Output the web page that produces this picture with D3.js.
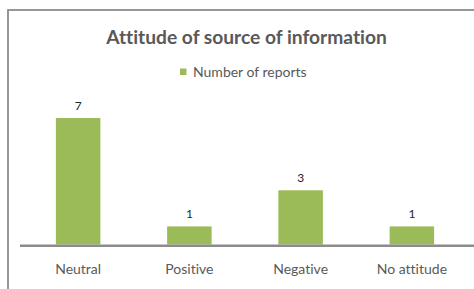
<!DOCTYPE html>
<html><head><meta charset="utf-8">
<script src="https://cdn.jsdelivr.net/npm/d3@7"></script>
<style>html,body{margin:0;padding:0;background:#fff;overflow:hidden} text{font-variant-ligatures:none;font-feature-settings:"liga" 0}</style>
</head><body>
<svg id="c" width="474" height="289"></svg>
<script>
const categories = ["Neutral", "Positive", "Negative", "No attitude"];
const values = [7, 1, 3, 1];
const seriesName = "Number of reports";
const title = "Attitude of source of information";

const svg = d3.select("#c");
const font = "Lato, 'Open Sans', sans-serif";
const grey = "#595959";

// frame
svg.append("rect").attr("x", 8).attr("y", 10).attr("width", 500).attr("height", 300)
  .attr("fill", "#fff").attr("stroke", "#8c8c8c").attr("stroke-width", 1.8);

const baseY = 244.5;
const x = d3.scaleBand().domain(categories).range([22.5, 467.5]).paddingInner(0.6).paddingOuter(0.3);
const y = d3.scaleLinear().domain([0, 7]).range([baseY, 118]);

svg.append("text").attr("x", 246.5).attr("y", 43.5).attr("text-anchor", "middle")
  .attr("font-family", font).attr("font-weight", "bold").attr("font-size", 19.2)
  .attr("fill", grey).text(title);

svg.append("rect").attr("x", 180).attr("y", 68.5).attr("width", 6.5).attr("height", 6.5).attr("fill", "#9BBB59");
svg.append("text").attr("x", 193).attr("y", 77).attr("font-family", font).attr("font-size", 14)
  .attr("fill", grey).text(seriesName);

const data = categories.map((c, i) => ({c, v: values[i]}));
svg.selectAll("rect.bar").data(data).enter().append("rect").attr("class", "bar")
  .attr("x", d => x(d.c)).attr("width", x.bandwidth())
  .attr("y", d => y(d.v)).attr("height", d => baseY - y(d.v)).attr("fill", "#9BBB59");

svg.selectAll("text.val").data(data).enter().append("text").attr("class", "val")
  .attr("x", d => x(d.c) + x.bandwidth() / 2).attr("y", d => y(d.v) - 8.5)
  .attr("text-anchor", "middle").attr("font-family", font).attr("font-size", 12)
  .attr("fill", "#262626").text(d => d.v);

// axis
const ax = svg.append("g").attr("transform", `translate(0,${baseY})`)
  .call(d3.axisBottom(x).tickSize(0).tickPadding(20));
ax.select(".domain").attr("stroke", "#8c8c8c").attr("stroke-width", 2.5)
  .attr("d", "M20,1.2H474");
ax.selectAll("text").attr("font-family", font).attr("font-size", 14).attr("fill", grey);
</script>
</body></html>
